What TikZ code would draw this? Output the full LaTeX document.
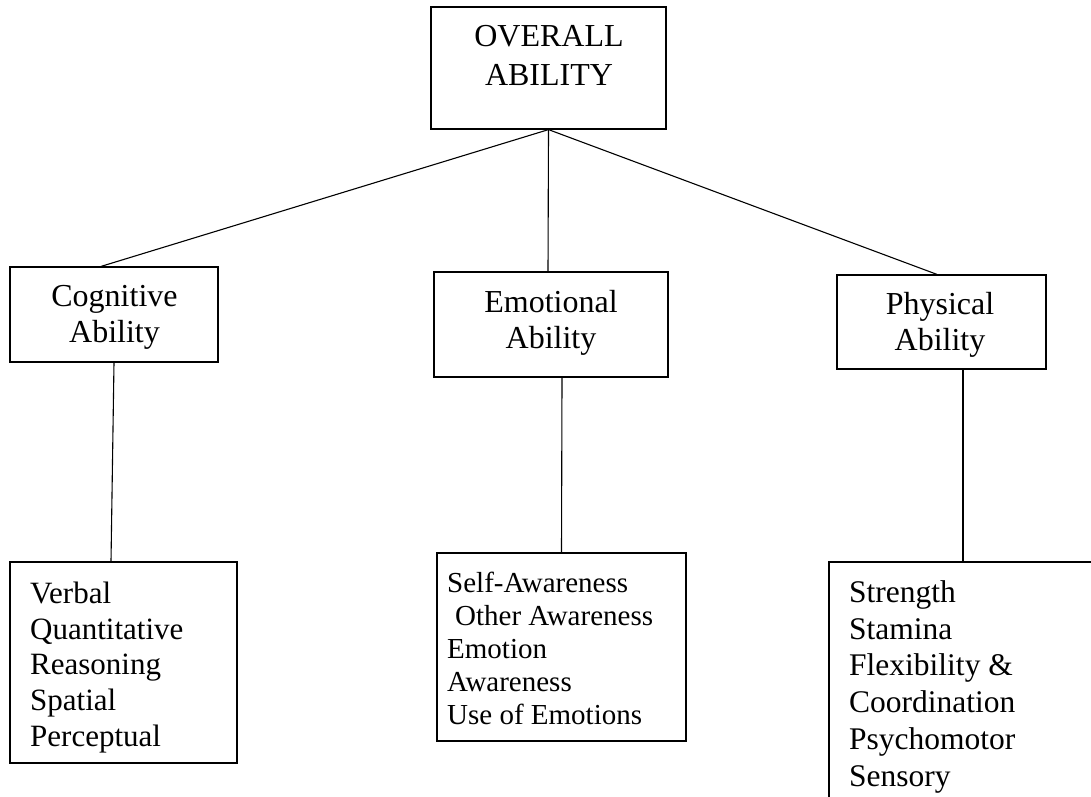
\documentclass[tikz,border=0pt]{standalone}
\usepackage{fontspec}
\setmainfont{Liberation Serif}
\begin{document}
\begin{tikzpicture}[x=1pt,y=-1pt,
  box/.style={draw, line width=1.2pt, rectangle, inner sep=0pt},
  link/.style={line width=1.1pt},
  headtxt/.style={inner sep=0pt, anchor=north, align=center},
  listtxt/.style={inner sep=0pt, anchor=north west, align=left}]
\clip (0,0) rectangle (1091,796);

% boxes
\node[box, minimum width=235pt, minimum height=122pt] (overall) at (548.5,68) {};
\node[box, minimum width=208pt, minimum height=95pt]  (cog)  at (114,314.5) {};
\node[box, minimum width=234pt, minimum height=105pt] (emo)  at (551,324.5) {};
\node[box, minimum width=209pt, minimum height=94pt]  (phys) at (941.5,322) {};
\node[box, minimum width=227pt, minimum height=201pt] (coglist)  at (123.5,662.5) {};
\node[box, minimum width=249pt, minimum height=188pt] (emolist)  at (561.5,647) {};
\node[box, minimum width=271pt, minimum height=248pt] (physlist) at (964.5,686) {};

% box texts
\node[headtxt, font=\fontsize{32}{39}\selectfont] (overallt) at (549,25) {OVERALL\\ABILITY};
\node[headtxt, font=\fontsize{32}{36}\selectfont] (cogt)  at (114.5,285) {Cognitive\\Ability};
\node[headtxt, font=\fontsize{32}{36}\selectfont] (emot)  at (551,290) {Emotional\\Ability};
\node[headtxt, font=\fontsize{32}{36}\selectfont] (physt) at (940,292) {Physical\\Ability};

\node[listtxt, font=\fontsize{31}{35.6}\selectfont] (coglistt) at (30,582)
  {Verbal\\Quantitative\\Reasoning\\Spatial\\Perceptual};
\node[listtxt, font=\fontsize{29}{33}\selectfont] (emolistt) at (447,572)
  {Self-Awareness\\\hspace*{8pt}Other Awareness\\Emotion\\Awareness\\Use of Emotions};
\node[listtxt, font=\fontsize{31.5}{36.7}\selectfont] (physlistt) at (849,580.5)
  {Strength\\Stamina\\Flexibility \&\\Coordination\\Psychomotor\\Sensory};

% connectors
\draw[link] (overall.south) -- ([xshift=-13pt]cog.north);
\draw[link] (overall.south) -- ([xshift=-3pt]emo.north);
\draw[link] (overall.south) -- ([xshift=-4.5pt]phys.north);
\draw[link] (cog.south) -- ([xshift=-12.5pt]coglist.north);
\draw[link] ([xshift=11pt]emo.south) -- (emolist.north);
\draw[link] ([xshift=21.5pt]phys.south) -- ([xshift=-1.5pt]physlist.north);
\end{tikzpicture}
\end{document}
